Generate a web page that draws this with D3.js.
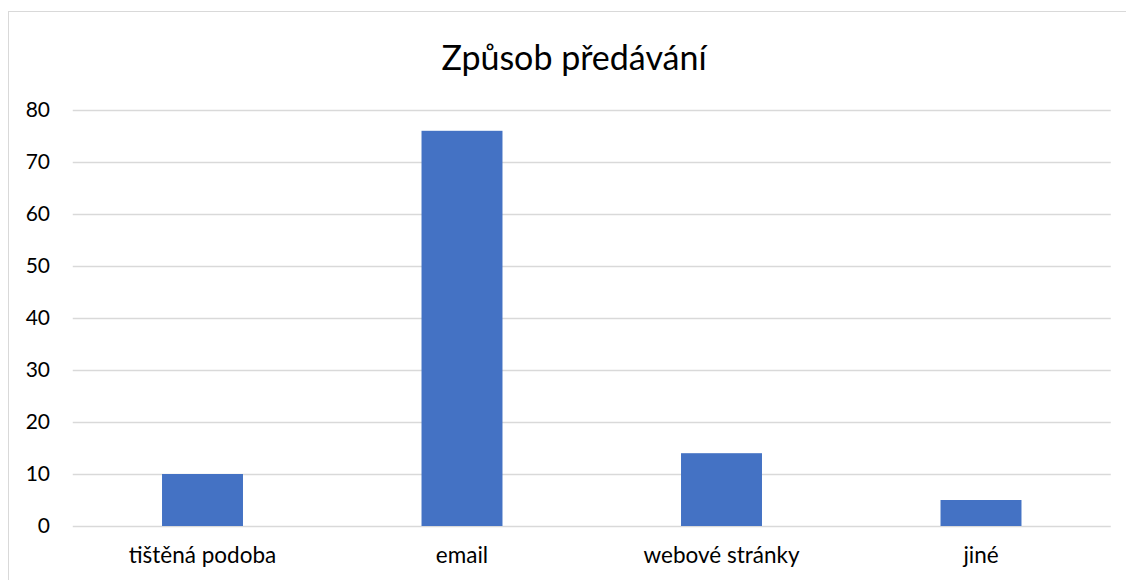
<!DOCTYPE html>
<html>
<head>
<meta charset="utf-8">
<script src="https://cdn.jsdelivr.net/npm/d3@7"></script>
<style>
  body { margin: 0; background: #fff; }
  text { font-family: Lato, "Open Sans", sans-serif; fill: #000; }
</style>
</head>
<body>
<div id="chart"></div>
<script>
let categories = ['tištěná podoba', 'email', 'webové stránky', 'jiné']
let values = [10, 76, 14, 5]
let yTicks = [0, 10, 20, 30, 40, 50, 60, 70, 80]

let width = 1126
    height = 580

let svg = d3.select("#chart")
  .append("svg")
  .attr("width", width)
  .attr("height", height)

// chart frame (right and bottom edges fall outside the picture)
svg.append("rect")
  .attr("x", 8.5)
  .attr("y", 11.5)
  .attr("width", 1200)
  .attr("height", 700)
  .attr("fill", "none")
  .attr("stroke", "#d9d9d9")

let x = d3.scaleBand()
  .domain(categories)
  .range([72.75, 1110.75])
  .paddingInner(0.688)
  .paddingOuter(0.344)

let y = d3.scaleLinear()
  .domain([0, 80])
  .range([526, 110])

// gridlines
svg.append("g")
  .selectAll("line")
  .data(yTicks)
  .enter()
  .append("line")
  .attr("x1", 72.75)
  .attr("x2", 1110.75)
  .attr("y1", d => Math.round(y(d)) + 0.5)
  .attr("y2", d => Math.round(y(d)) + 0.5)
  .attr("stroke", "#d9d9d9")
  .attr("stroke-width", 1.5)

// y labels
svg.append("g")
  .selectAll("text")
  .data(yTicks)
  .enter()
  .append("text")
  .text(d => d)
  .attr("x", 50)
  .attr("y", d => y(d))
  .attr("dy", "0.35em")
  .attr("text-anchor", "end")
  .style("font-size", "21px")

// bars
svg.append("g")
  .selectAll("rect")
  .data(values)
  .enter()
  .append("rect")
  .attr("x", (d, i) => x(categories[i]))
  .attr("width", x.bandwidth())
  .attr("y", d => y(d))
  .attr("height", d => y(0) - y(d))
  .attr("fill", "#4472c4")

// x labels
svg.append("g")
  .selectAll("text")
  .data(categories)
  .enter()
  .append("text")
  .text(d => d)
  .attr("x", d => x(d) + x.bandwidth() / 2)
  .attr("y", 563)
  .attr("text-anchor", "middle")
  .style("font-size", "22.5px")

svg.append("text")
  .text("Způsob předávání")
  .attr("x", 574)
  .attr("y", 70)
  .attr("text-anchor", "middle")
  .style("font-size", "34px")
</script>
</body>
</html>
